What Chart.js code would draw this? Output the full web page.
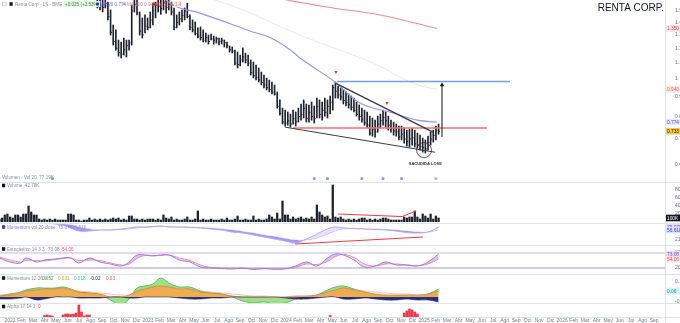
<!DOCTYPE html>
<html>
<head>
<meta charset="utf-8">
<title>Renta Corp</title>
<script src="https://cdn.jsdelivr.net/npm/chart.js"></script>
<style>
  body { margin: 0; width: 680px; height: 323px; background: #fff; position: relative; overflow: hidden; }
  canvas { position: absolute; left: 0; }
  .sep { position: absolute; left: 0; width: 680px; height: 1px; background: #e0e3eb; }
  .vsep { position: absolute; left: 665px; top: 0; width: 1px; height: 323px; background: #e0e3eb; }
</style>
</head>
<body>
<canvas id="main" width="680" height="182" style="top:0px"></canvas>
<canvas id="vol" width="680" height="39" style="top:183px"></canvas>
<canvas id="osc" width="680" height="21" style="top:224px"></canvas>
<canvas id="sto" width="680" height="28" style="top:246px"></canvas>
<canvas id="ao" width="680" height="28" style="top:275px"></canvas>
<canvas id="alpha" width="680" height="19" style="top:304px"></canvas>
<div class="sep" style="top:182px"></div>
<div class="sep" style="top:223px"></div>
<div class="sep" style="top:245px"></div>
<div class="sep" style="top:274px"></div>
<div class="sep" style="top:303px"></div>
<div class="sep" style="top:317px"></div>
<div class="vsep"></div>
<script>
const FONT = '"Liberation Sans", Arial, sans-serif';

// x axis: weekly bars, index 4 = first week of 2022
const X_MIN = 0.2, X_MAX = 251.6;
const WEEKS_PER_MONTH = 52.18 / 12;
const months = ['Feb', 'Mar', 'Abr', 'May', 'Jun', 'Jul', 'Ago', 'Sep', 'Oct', 'Nov', 'Dic'];
const years = ['2022', '2023', '2024', '2025', '2026'];
const tickLabels = years.flatMap(y => [y, ...months]).slice(0, 57);

// price (weekly OHLC)
const priceTicks = [0.6, 0.7, 0.8, 0.9, 1, 1.1, 1.2, 1.3, 1.4, 1.5];
const priceHigh = [
  2.05, 2.04, 2.07, 2.09, 2.08, 2.10, 2.13, 2.10, 2.15, 2.17,
  2.14, 2.09, 2.04, 2.05, 2.09, 2.11, 2.09, 2.05, 2.02, 2.03,
  2.05, 2.03, 2.00, 1.97, 2.00, 1.99, 1.96, 1.93, 1.96, 1.95,
  1.91, 1.89, 1.87, 1.85, 1.82, 1.78, 1.74, 1.65, 1.63, 1.60,
  1.62, 1.58, 1.508, 1.379, 1.339, 1.261, 1.246, 1.276, 1.261, 1.261,
  1.553, 1.63, 1.60, 1.49, 1.438, 1.464, 1.438, 1.49, 1.553, 1.581,
  1.63, 1.60, 1.62, 1.60, 1.62, 1.581, 1.526, 1.464, 1.49, 1.508,
  1.526, 1.57, 1.464, 1.421, 1.404, 1.355, 1.363, 1.339, 1.315, 1.299,
  1.307, 1.291, 1.284, 1.276, 1.276, 1.261, 1.246, 1.217, 1.21, 1.188,
  1.174, 1.153, 1.203, 1.167, 1.153, 1.12, 1.106, 1.087, 1.068, 1.043,
  1.024, 1.006, 0.994, 0.982, 0.965, 0.926, 0.883, 0.841, 0.831, 0.822,
  0.812, 0.831, 0.822, 0.841, 0.862, 0.883, 0.862, 0.857, 0.872, 0.852,
  0.893, 0.883, 0.872, 0.893, 0.883, 0.904, 0.965, 0.982, 0.959, 0.948,
  0.937, 0.926, 0.915, 0.904, 0.893, 0.872, 0.857, 0.841, 0.831, 0.822,
  0.802, 0.793, 0.783, 0.802, 0.812, 0.831, 0.822, 0.802, 0.783, 0.774,
  0.765, 0.756, 0.756, 0.747, 0.738, 0.742, 0.747, 0.738, 0.725, 0.716,
  0.704, 0.696, 0.712, 0.729, 0.738, 0.756, 0.765
];
const priceLow = [
  1.95, 1.94, 1.96, 1.99, 1.98, 2.00, 2.02, 2.00, 2.03, 2.06,
  2.02, 1.97, 1.94, 1.95, 1.98, 2.01, 1.98, 1.95, 1.92, 1.93,
  1.95, 1.93, 1.90, 1.88, 1.90, 1.89, 1.86, 1.84, 1.86, 1.85,
  1.82, 1.80, 1.78, 1.75, 1.71, 1.67, 1.62, 1.526, 1.508, 1.49,
  1.526, 1.421, 1.299, 1.224, 1.188, 1.146, 1.133, 1.153, 1.14, 1.188,
  1.224, 1.49, 1.464, 1.299, 1.276, 1.315, 1.339, 1.355, 1.379, 1.438,
  1.49, 1.47, 1.508, 1.48, 1.508, 1.464, 1.339, 1.355, 1.379, 1.404,
  1.421, 1.438, 1.339, 1.323, 1.299, 1.276, 1.261, 1.246, 1.246, 1.231,
  1.261, 1.231, 1.238, 1.224, 1.231, 1.21, 1.203, 1.174, 1.167, 1.087,
  1.068, 1.081, 1.106, 1.10, 1.081, 1.024, 1.006, 0.994, 0.982, 0.965,
  0.948, 0.937, 0.926, 0.915, 0.909, 0.841, 0.807, 0.765, 0.756, 0.76,
  0.751, 0.765, 0.756, 0.774, 0.783, 0.793, 0.774, 0.774, 0.783, 0.77,
  0.793, 0.793, 0.783, 0.802, 0.793, 0.812, 0.831, 0.893, 0.893, 0.883,
  0.862, 0.852, 0.841, 0.831, 0.822, 0.802, 0.783, 0.774, 0.76, 0.751,
  0.716, 0.712, 0.708, 0.729, 0.747, 0.76, 0.751, 0.738, 0.729, 0.716,
  0.712, 0.696, 0.696, 0.683, 0.671, 0.667, 0.675, 0.667, 0.663, 0.655,
  0.647, 0.644, 0.655, 0.675, 0.687, 0.696, 0.72
];
const priceClose = [
  2.00, 1.98, 2.02, 2.04, 2.02, 2.05, 2.08, 2.04, 2.10, 2.12,
  2.08, 2.02, 1.98, 2.00, 2.04, 2.06, 2.03, 1.99, 1.96, 1.98,
  2.00, 1.97, 1.94, 1.92, 1.95, 1.93, 1.90, 1.88, 1.91, 1.89,
  1.86, 1.84, 1.82, 1.80, 1.76, 1.72, 1.68, 1.56, 1.545, 1.53,
  1.57, 1.45, 1.32, 1.25, 1.20, 1.17, 1.16, 1.19, 1.22, 1.24,
  1.50, 1.56, 1.48, 1.33, 1.30, 1.37, 1.36, 1.42, 1.50, 1.55,
  1.54, 1.52, 1.58, 1.53, 1.56, 1.49, 1.36, 1.40, 1.43, 1.46,
  1.50, 1.45, 1.36, 1.34, 1.31, 1.29, 1.28, 1.26, 1.28, 1.25,
  1.27, 1.26, 1.27, 1.25, 1.26, 1.24, 1.22, 1.19, 1.18, 1.10,
  1.09, 1.12, 1.14, 1.12, 1.10, 1.04, 1.02, 1.01, 0.995, 0.98,
  0.965, 0.95, 0.94, 0.925, 0.915, 0.85, 0.815, 0.775, 0.77, 0.78,
  0.765, 0.79, 0.775, 0.80, 0.81, 0.84, 0.79, 0.82, 0.80, 0.79,
  0.85, 0.81, 0.83, 0.82, 0.85, 0.87, 0.95, 0.93, 0.91, 0.90,
  0.88, 0.87, 0.86, 0.845, 0.83, 0.81, 0.80, 0.785, 0.77, 0.76,
  0.725, 0.74, 0.73, 0.765, 0.78, 0.795, 0.78, 0.76, 0.745, 0.735,
  0.73, 0.71, 0.72, 0.70, 0.69, 0.70, 0.705, 0.68, 0.675, 0.67,
  0.665, 0.66, 0.685, 0.70, 0.715, 0.735, 0.733
];

// volume in thousands
const volumeTicks = [200, 400, 600, 800];
const volume = [
  75, 100, 175, 200, 125, 100, 175, 175, 125, 200,
  200, 400, 250, 175, 175, 75, 50, 75, 50, 75,
  50, 75, 50, 50, 50, 50, 200, 200, 175, 50,
  50, 25, 50, 50, 100, 50, 75, 50, 75, 50,
  75, 50, 75, 100, 75, 100, 50, 75, 50, 150,
  150, 75, 75, 50, 75, 50, 75, 75, 75, 50,
  75, 50, 175, 100, 75, 125, 50, 75, 50, 50,
  75, 125, 50, 50, 75, 275, 50, 75, 50, 50,
  75, 50, 50, 50, 75, 50, 100, 50, 50, 75,
  150, 50, 50, 75, 50, 50, 150, 50, 75, 50,
  50, 75, 175, 125, 75, 225, 75, 525, 175, 175,
  75, 125, 75, 100, 125, 75, 100, 75, 125, 75,
  425, 250, 175, 125, 150, 75, 925, 125, 100, 125,
  75, 50, 75, 50, 75, 50, 75, 100, 100, 50,
  75, 50, 75, 50, 75, 100, 100, 75, 50, 50,
  50, 50, 50, 125, 100, 125, 125, 275, 125, 75,
  200, 150, 100, 200, 75, 150, 100
];
const volTrend = [[128, 200], [152.2, 137], [157.5, 275]];

// overlays on the price pane: [bar index, price]
const maBlue = [[56.9, 1.75], [65.6, 1.553], [75.8, 1.48], [87.2, 1.39], [94.7, 1.33], [102.3, 1.28],
  [109.9, 1.19], [113.6, 1.133], [117.4, 1.087], [126.9, 0.982], [136.3, 0.867], [148.8, 0.817],
  [157.9, 0.783], [165.4, 0.774]];
const maRed = [[95, 1.68], [108.7, 1.60], [125, 1.53], [143.9, 1.464], [165.4, 1.35]];
const maFaint = [[70, 1.68], [87.2, 1.553], [113.6, 1.299], [141.2, 1.1], [156.4, 0.975], [165.4, 0.94]];
const trendUpper = [[127, 0.976], [163.9, 0.729]];
const trendLower = [[108, 0.751], [164.7, 0.647]];
const levelRed = [[111, 0.747], [184.3, 0.747]];
const levelBlue = [[127.6, 0.985], [193, 0.985]];
const targetArrow = [[167.3, 0.708], [167.3, 0.965]];
const redMarks = [[127.2, 1.043], [146.5, 0.867]];
const eventMarks = [20, 119, 124, 137, 145, 152, 165];
const shakeout = [160.5, 0.655];

// indicator panes, sampled at these bar indexes
const indX = [0, 4, 8, 10, 14, 17, 21, 24, 27, 30, 34, 38, 42, 46, 49, 52, 55, 58, 61, 64, 68, 72, 76,
  80, 84, 88, 92, 96, 100, 104, 108, 112, 116, 120, 124, 127, 130, 134, 138, 142, 146, 150, 154, 158, 162, 166];
const osc = [25, 25, 25, 25, 24, 23, 21, 20, 17, 14, 14, 15, 15, 16, 17, 18, 18, 18.5, 19, 18,
  18, 17.5, 17, 16, 15, 13, 12, 10, 8, 6, 4, 2, 6, 11, 16, 18, 17, 16.5, 16, 15.5, 15, 14, 12.5, 12, 13, 18];
const oscSignal = [25, 25, 25, 25, 24.5, 23.5, 22, 21, 20, 18, 16, 15, 15, 15.5, 16, 17, 17.5, 18, 18.5, 18.5,
  18, 18, 17.5, 17, 16, 15, 13.5, 12, 10, 8.5, 6.5, 5, 5, 7, 11, 14, 16, 16.5, 16, 16, 15.5, 15, 14, 13, 13, 15];
const oscTrend = [[111.7, 1], [160.1, 8]];
const stochK = [60, 44, 40, 60, 44, 52, 56, 60, 60, 40, 60, 44, 36, 28, 44, 72, 72, 68, 72, 72,
  52, 44, 24, 20, 18, 16, 20, 14, 18, 15, 17, 28, 44, 28, 60, 76, 72, 52, 24, 28, 44, 32, 32, 28, 44, 76];
const stochD = [64, 52, 44, 50, 50, 48, 54, 58, 60, 50, 52, 50, 40, 32, 36, 58, 70, 70, 70, 72,
  60, 50, 32, 22, 20, 19, 18, 18, 17, 17, 17, 22, 36, 34, 46, 66, 74, 62, 36, 28, 36, 36, 32, 30, 36, 56];
const stochBands = [80, 20];
const aoGreen = [1, 3, 5, 7, 9, 9, 9, 10, 8, 5, 4, 2, -3, -8, -2, 9, 11, 13, 19, 14,
  10, 10, 6, 4, 3, 0, -4, -6, -5, -7, -6, -2, 0, 2, 7, 10, 11, 8, 5, 2, 1, 1, 1, 1, 3, 8];
const aoOrange = [1, 2, 4, 6, 7, 8, 8, 9, 7, 5, 4, 3, 0, 0, 2, 6, 8, 10, 11, 10,
  8, 8, 5, 4, 3, 1, 0, 0, 0, 0, 0, 1, 1, 2, 5, 7, 9, 7, 5, 3, 2, 2, 2, 2, 3, 6];
const aoNavy = [-2, -2, -1, 0, -3, -2, 0, 0, 0, -1, -1, -1, 0, 0, -1, -1, 0, 0, 0, 0,
  -1, -2, -2, -1, -1, 0, 0, 0, 0, 0, -1, -2, -2, -1, 0, 0, -2, -2, -1, -2, -3, -3, -2, -3, -3, -5];
const aoSignal = [2, 3, 4, 5, 6, 7, 7, 8, 7, 6, 5, 4, 3, 2, 2, 4, 6, 8, 9, 9,
  8, 7, 6, 5, 4, 3, 2, 1, 1, 0, 0, 0, 1, 1, 3, 5, 7, 7, 6, 5, 4, 3, 3, 2, 2, 3];
const alphaX = [17, 18, 19, 20, 24, 25, 26, 27, 28, 29, 30, 31, 32, 33, 34, 125, 153, 154, 155, 156, 157, 158];
const alphaVal = [1.5, 2, 1.5, 1, 2, 3, 3, 2.5, 3, 4, 12, 5, 1, 2, 2, 1.5, 4, 6, 8, 7, 5, 3];

// ---------- helpers ----------
function xAxis() {
  return {type: 'linear', min: X_MIN, max: X_MAX, display: false, offset: false, grid: {offset: false}};
}
function yAxis(min, max, ticks, fmt, extra) {
  return Object.assign({
    type: 'linear', position: 'right', min: min, max: max,
    grid: {display: false},
    border: {display: true, color: '#d1d4dc'},
    ticks: {font: {size: 5, family: FONT}, color: '#6a6d78', padding: 2, autoSkip: false,
      callback: fmt, display: ticks.length > 0},
    afterBuildTicks: s => { s.ticks = ticks.map(v => ({value: v})); },
    afterFit: s => { s.width = 15; s.paddingTop = 0; s.paddingBottom = 0; }
  }, extra || {});
}
function opts(y, bottomPad) {
  return {
    responsive: false, devicePixelRatio: 1, animation: false, events: [],
    layout: {padding: {left: 0, right: 0, top: 0, bottom: bottomPad || 0}, autoPadding: false},
    plugins: {legend: {display: false}, tooltip: {enabled: false}},
    scales: {x: xAxis(), y: y}
  };
}
function line(pairs, color, width, extra) {
  return Object.assign({type: 'line', data: pairs.map(p => ({x: p[0], y: p[1]})),
    borderColor: color, borderWidth: width, pointRadius: 0, tension: 0.4, fill: false, order: 1}, extra || {});
}
function series(vals) { return indX.map((x, k) => ({x: x, y: vals[k]})); }
function legend(ctx, y, items) {
  ctx.font = '4.6px ' + FONT;
  ctx.textBaseline = 'middle';
  ctx.textAlign = 'left';
  items.forEach(it => {
    if (it.dot) {
      ctx.fillStyle = it.dot;
      ctx.beginPath(); ctx.arc(it.x - 2.5, y, 1.6, 0, Math.PI * 2); ctx.fill();
    }
    if (it.bg) {
      ctx.fillStyle = it.bg;
      ctx.fillRect(it.x - 1, y - 3, ctx.measureText(it.t).width + 2, 6);
    }
    ctx.fillStyle = it.c;
    ctx.fillText(it.t, it.x, y + 0.3);
  });
}
function square(ctx, x, y, color) { ctx.fillStyle = color; ctx.fillRect(x, y - 1.8, 3.2, 3.6); }
function tag(ctx, chart, v, bg, fg, label) {
  const y = chart.scales.y.getPixelForValue(v);
  ctx.font = '4.8px ' + FONT;
  ctx.fillStyle = bg;
  ctx.fillRect(666, y - 3.3, 14, 6.6);
  ctx.fillStyle = fg;
  ctx.textBaseline = 'middle';
  ctx.textAlign = 'left';
  ctx.fillText(label, 667, y + 0.3);
}
function decor(fn) { return {id: 'decor', afterDraw: chart => { chart.ctx.save(); fn(chart.ctx, chart); chart.ctx.restore(); }}; }
const last = a => a[a.length - 1];

// ---------- price pane ----------
const BAR = '#1e222d';
new Chart(document.getElementById('main'), {
  type: 'bar',
  data: {datasets: [
    {type: 'bar', data: priceHigh.map((h, i) => ({x: i, y: [priceLow[i], h]})),
      backgroundColor: BAR, barThickness: 1, order: 6},
    {type: 'scatter', data: priceClose.map((c, i) => ({x: i + 0.3, y: c})),
      pointStyle: 'line', pointRadius: 0.6, borderColor: BAR, borderWidth: 1, order: 6},
    line(maFaint, 'rgba(232,205,210,0.55)', 1, {order: 5}),
    line(maBlue, '#9494f2', 1.1, {order: 4}),
    line(maRed, '#f58a8a', 1.1, {order: 4}),
    line(levelRed, '#f46f6f', 1.6, {tension: 0, order: 3}),
    line(levelBlue, '#6f9ef4', 1.4, {tension: 0, order: 3}),
    line(trendUpper, '#3a3d48', 1.4, {tension: 0, order: 2}),
    line(trendLower, '#3a3d48', 1, {tension: 0, order: 2}),
    line(targetArrow, '#111', 1, {tension: 0, order: 1, pointRadius: [0, 2.6], pointStyle: 'triangle',
      pointBackgroundColor: '#111', pointBorderWidth: 0}),
    {type: 'scatter', data: redMarks.map(p => ({x: p[0], y: p[1]})), pointStyle: 'triangle', rotation: 180,
      pointRadius: 2, backgroundColor: '#f23645', borderWidth: 0, order: 1},
    {type: 'scatter', data: eventMarks.map(x => ({x: x, y: 0.553})), pointStyle: 'rectRounded',
      pointRadius: 1.6, backgroundColor: eventMarks.map((_, k) => k === eventMarks.length - 1 ? '#b2b5be' : '#6d9ef0'),
      borderWidth: 0, order: 1},
    {type: 'scatter', data: [{x: shakeout[0], y: shakeout[1]}], pointStyle: 'circle', pointRadius: 7.5,
      backgroundColor: 'rgba(0,0,0,0)', borderColor: '#333', borderWidth: 0.8, order: 1}
  ]},
  options: opts(yAxis(0.542, 1.6, priceTicks, v => v === 1 ? '1' : v.toFixed(1), {type: 'logarithmic'})),
  plugins: [decor((ctx, chart) => {
    const xs = chart.scales.x, ys = chart.scales.y;
    ctx.strokeStyle = '#b2b5be'; ctx.lineWidth = 0.6; ctx.strokeRect(2.5, 2.2, 3.6, 3.6);
    square(ctx, 9.5, 4, '#131722');
    legend(ctx, 4, [
      {x: 15, t: 'Renta Corp · 1S · BME  C0.733', c: '#8a8d96'},
      {x: 65, t: '+0.025 (+3.53%)', c: '#3f9a45', bg: '#e6f4e6'},
      {x: 100, t: 'MA 20 0.774', c: '#6a6af0', dot: '#2a2ad6'},
      {x: 127, t: 'MA 200 0.940', c: '#d88a9a', dot: '#f2a0b0'},
      {x: 156, t: 'MA 50 1.353', c: '#f05050', dot: '#f01010'},
      {x: 175, t: '1.4', c: '#e07070', bg: '#fde8e8'}
    ]);
    legend(ctx, 177, [{x: 2, t: 'Volumen · Vol 20  77.19K', c: '#8a8d96'}]);
    ctx.font = '10px ' + FONT;
    ctx.fillStyle = '#131722';
    ctx.textAlign = 'right';
    ctx.textBaseline = 'alphabetic';
    ctx.fillText('RENTA CORP.', 664, 11);
    ctx.font = 'bold 4px ' + FONT;
    ctx.textAlign = 'center';
    ctx.fillStyle = '#333';
    ctx.fillText('SACUDIDA LOSE', xs.getPixelForValue(161), ys.getPixelForValue(0.598));
    tag(ctx, chart, last(maRed)[1], '#fde3e3', '#e04848', last(maRed)[1].toFixed(3));
    tag(ctx, chart, last(maFaint)[1], '#fde3e3', '#e07070', last(maFaint)[1].toFixed(3));
    tag(ctx, chart, last(maBlue)[1], '#e6e6fd', '#4a4ae0', last(maBlue)[1].toFixed(3));
    tag(ctx, chart, last(priceClose), '#f7c948', '#131722', last(priceClose).toFixed(3));
  })]
});

// ---------- volume pane ----------
new Chart(document.getElementById('vol'), {
  type: 'bar',
  data: {datasets: [
    {type: 'bar', data: volume.map((v, i) => ({x: i, y: v})), backgroundColor: BAR, barThickness: 1.6, order: 2},
    line(volTrend, '#f23645', 1, {tension: 0, order: 1})
  ]},
  options: opts(yAxis(0, 975, volumeTicks, v => v + 'K')),
  plugins: [decor((ctx, chart) => {
    square(ctx, 2, 2.5, '#131722');
    legend(ctx, 2.5, [{x: 7, t: 'Volume  42.78K', c: '#8a8d96'}]);
    tag(ctx, chart, last(volume), '#131722', '#fff', '100K');
  })]
});

// ---------- volume oscillator pane ----------
new Chart(document.getElementById('osc'), {
  type: 'line',
  data: {datasets: [
    {data: series(osc), borderColor: '#b7a2f0', borderWidth: 1, pointRadius: 0, tension: 0.4,
      fill: {target: 1, above: 'rgba(190,175,250,0.35)', below: 'rgba(90,90,240,0.6)'}, order: 2},
    {data: series(oscSignal), borderColor: 'rgba(200,190,250,0.7)', borderWidth: 0.8, pointRadius: 0, tension: 0.4,
      fill: false, order: 3},
    line(oscTrend, '#f23645', 1, {tension: 0, order: 1})
  ]},
  options: opts(yAxis(0, 21, [5, 15], v => (v * 4.2).toFixed(2) + 'K')),
  plugins: [decor((ctx, chart) => {
    square(ctx, 2, 3, '#3b3bd0');
    legend(ctx, 3, [{x: 7, t: 'Momentum vol 20 close  75.07K', c: '#7b7be8'}, {x: 72, t: '56.61K', c: '#b58ae0'}]);
    tag(ctx, chart, last(osc), '#e6dcfd', '#6a4ad0', '75.07K');
    tag(ctx, chart, last(oscSignal), '#dde0fd', '#3b3bd0', '56.61K');
  })]
});

// ---------- stochastic pane ----------
new Chart(document.getElementById('sto'), {
  type: 'line',
  data: {datasets: [
    {data: series(stochK), borderColor: '#9a7ae6', borderWidth: 1, pointRadius: 0, tension: 0.4,
      fill: {target: 1, above: 'rgba(160,130,235,0.45)', below: 'rgba(245,160,180,0.4)'}, order: 1},
    {data: series(stochD), borderColor: '#f08aa0', borderWidth: 1, pointRadius: 0, tension: 0.4, fill: false, order: 2},
    line([[X_MIN, stochBands[0]], [X_MAX, stochBands[0]]], 'rgba(149,117,205,0.55)', 1, {tension: 0, order: 3}),
    line([[X_MIN, stochBands[1]], [X_MAX, stochBands[1]]], 'rgba(149,117,205,0.8)', 1, {tension: 0, order: 3})
  ]},
  options: opts(yAxis(-4, 108, [80, 50, 20], v => String(v))),
  plugins: [decor((ctx, chart) => {
    square(ctx, 2, 3, '#131722');
    legend(ctx, 3, [{x: 7, t: 'Estocástico 14 3 3', c: '#8a8d96'}, {x: 48, t: '73.08', c: '#8a6ae0'},
      {x: 62, t: '54.06', c: '#f05060'}]);
    tag(ctx, chart, last(stochK), '#e6dcfd', '#6a4ad0', '73.08');
    tag(ctx, chart, last(stochD), '#fde3e6', '#f05060', '54.06');
  })]
});

// ---------- momentum areas pane ----------
new Chart(document.getElementById('ao'), {
  type: 'line',
  data: {datasets: [
    {data: series(aoSignal), borderColor: 'rgba(240,150,170,0.8)', borderWidth: 0.8, pointRadius: 0, tension: 0.4,
      fill: false, order: 0},
    {data: series(aoNavy), borderColor: '#1a237e', borderWidth: 0.6, backgroundColor: '#27307e', pointRadius: 0,
      tension: 0.4, fill: 'origin', order: 1},
    {data: series(aoOrange), borderColor: '#c98a1c', borderWidth: 0.8, backgroundColor: 'rgba(247,170,70,0.9)',
      pointRadius: 0, tension: 0.4, fill: 'origin', order: 2},
    {data: series(aoGreen), borderColor: '#47b04a', borderWidth: 0.8, backgroundColor: 'rgba(140,220,110,0.85)',
      pointRadius: 0, tension: 0.4, fill: 'origin', order: 3}
  ]},
  options: opts(yAxis(-6, 22, [15, 5, -5], v => (v / 100).toFixed(2))),
  plugins: [decor((ctx, chart) => {
    square(ctx, 2, 3, '#131722');
    legend(ctx, 3, [{x: 7, t: 'Momentum 12 26 9', c: '#8a8d96'}, {x: 42, t: '0.052', c: '#47b04a'},
      {x: 58, t: '0.031', c: '#e09a30'}, {x: 74, t: '0.018', c: '#30c0d0'}, {x: 90, t: '-0.02', c: '#1a237e'},
      {x: 106, t: '0.03', c: '#f05060'}]);
    tag(ctx, chart, last(aoOrange), '#d6f5f8', '#1a8a98', '0.06');
  })]
});

// ---------- alpha pane, time axis labels drawn underneath it ----------
new Chart(document.getElementById('alpha'), {
  type: 'bar',
  data: {datasets: [
    {type: 'bar', data: alphaX.map((x, k) => ({x: x, y: alphaVal[k]})), backgroundColor: '#f23645', barThickness: 2}
  ]},
  options: opts(yAxis(0, 13, [], v => v), 6),
  plugins: [decor((ctx, chart) => {
    square(ctx, 2, 2.5, '#131722');
    legend(ctx, 2.5, [{x: 7, t: 'Alpha 17 14 3', c: '#8a8d96'}, {x: 38, t: '0', c: '#f23645'}]);
    const xs = chart.scales.x, bottom = chart.chartArea.bottom;
    ctx.font = '5px ' + FONT;
    ctx.fillStyle = '#787b86';
    ctx.textAlign = 'center';
    ctx.textBaseline = 'middle';
    tickLabels.forEach((t, k) => {
      const px = xs.getPixelForValue(4 + k * WEEKS_PER_MONTH);
      if (px >= 0 && px <= 662) ctx.fillText(t, px, bottom + 3.3);
    });
  })]
});
</script>
</body>
</html>
